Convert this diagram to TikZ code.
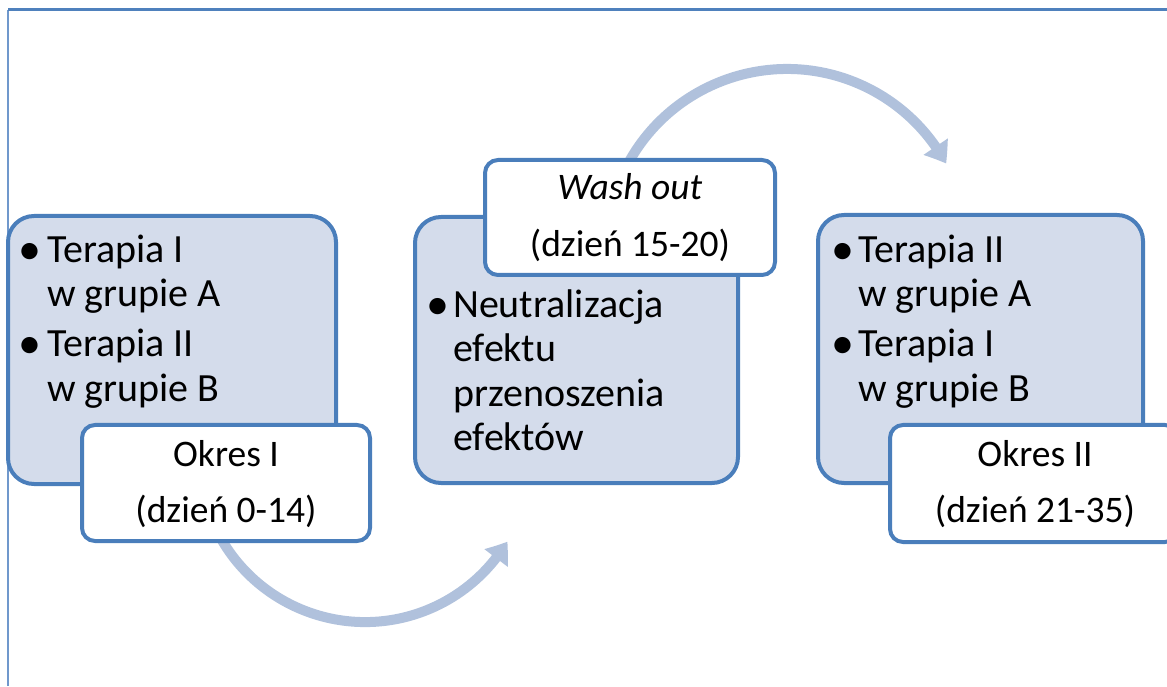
\documentclass[tikz,border=0pt]{standalone}
\usepackage{fontspec}
\setmainfont{Carlito}
\usetikzlibrary{arrows.meta,bending}
\definecolor{frameblue}{HTML}{4F81BD}
\definecolor{frameleft}{HTML}{7098CC}
\definecolor{boxfill}{HTML}{D4DCEB}
\definecolor{boxline}{HTML}{4A7EBB}
\definecolor{flowcol}{HTML}{B0C1DC}
\tikzset{
  x=1pt, y=1pt,
  bigbox/.style={draw=boxline, fill=boxfill, line width=4pt, rounded corners=26pt, inner sep=0pt},
  lblbox/.style={draw=boxline, fill=white, line width=4pt, rounded corners=13pt, inner sep=0pt},
  itemtxt/.style={anchor=base west, inner sep=0pt, font=\fontsize{40}{44}\selectfont},
  bul/.style={anchor=base, inner sep=0pt, font=\fontsize{46}{44}\selectfont},
  lbltxt/.style={anchor=base, inner sep=0pt, font=\fontsize{37.5}{44}\selectfont},
  flow/.style={draw=flowcol, line width=10pt, -{Triangle[width=28pt,length=20pt,bend]}}
}
\begin{document}
\begin{tikzpicture}
\useasboundingbox (0,0) rectangle (1167,686);
\clip (0,0) rectangle (1167,686);
% frame
\coordinate (fbl) at (8,0);
\coordinate (ftl) at (8,676);
\coordinate (ftr) at (1167,676);
\draw[frameleft, line width=2.5pt] (fbl) -- (ftl);
\draw[frameblue, line width=3pt] (ftl) -- (ftr);
% arrows
\coordinate (a1s) at (214.6,159.8);
\coordinate (a2s) at (623,512.5);
\draw[flow] (a1s) arc[start angle=205, end angle=329, radius=166pt];
\draw[flow] (a2s) arc[start angle=155, end angle=28.5, radius=181pt];
% box 1
\node[bigbox, minimum width=328pt, minimum height=268pt] (b1) at (172,336) {};
\node[bul] (b1u1) at (30,421) {\textbullet};
\node[itemtxt] (b1t1) at (47,423) {Terapia I};
\node[itemtxt] (b1t2) at (47,379) {w grupie A};
\node[bul] (b1u2) at (30,327) {\textbullet};
\node[itemtxt] (b1t3) at (47,329) {Terapia II};
\node[itemtxt] (b1t4) at (47,284) {w grupie B};
\node[lblbox, minimum width=288pt, minimum height=116pt] (l1) at (226,203) {};
\node[lbltxt] (l1a) at (226,219) {Okres I};
\node[lbltxt] (l1b) at (226,164) {(dzień 0-14)};
% box 2
\node[bigbox, minimum width=323pt, minimum height=266pt] (b2) at (576.5,336) {};
\node[bul] (b2u1) at (438,366) {\textbullet};
\node[itemtxt] (b2t1) at (453,368) {Neutralizacja};
\node[itemtxt] (b2t2) at (453,324) {efektu};
\node[itemtxt] (b2t3) at (453,279) {przenoszenia};
\node[itemtxt] (b2t4) at (453,236) {efektów};
\node[lblbox, minimum width=290pt, minimum height=115pt] (l2) at (630,468.5) {};
\node[lbltxt] (l2a) at (630,486) {\itshape Wash out};
\node[lbltxt] (l2b) at (630,429) {(dzień 15-20)};
% box 3
\node[bigbox, minimum width=325pt, minimum height=268pt] (b3) at (980.5,337) {};
\node[bul] (b3u1) at (843,421) {\textbullet};
\node[itemtxt] (b3t1) at (858,423) {Terapia II};
\node[itemtxt] (b3t2) at (858,379) {w grupie A};
\node[bul] (b3u2) at (843,327) {\textbullet};
\node[itemtxt] (b3t3) at (858,329) {Terapia I};
\node[itemtxt] (b3t4) at (858,284) {w grupie B};
\node[lblbox, minimum width=288pt, minimum height=117pt] (l3) at (1034,202.5) {};
\node[lbltxt] (l3a) at (1035,219) {Okres II};
\node[lbltxt] (l3b) at (1035,164) {(dzień 21-35)};
\end{tikzpicture}
\end{document}
